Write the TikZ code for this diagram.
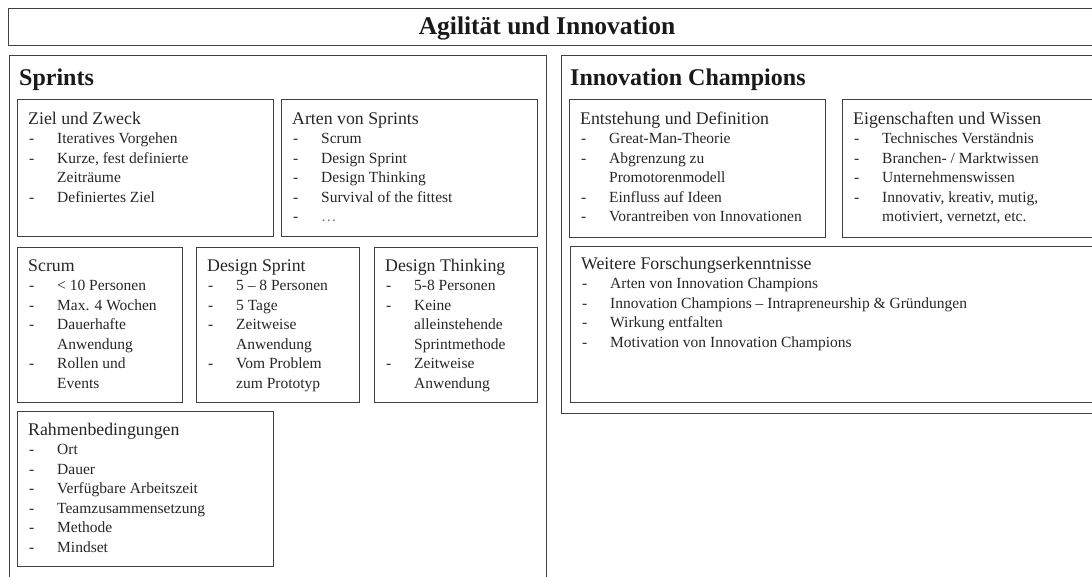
\documentclass[tikz,border=0pt]{standalone}
\usepackage{fontspec}
\setmainfont{Liberation Serif}
\usepackage{tikz}

\newcommand{\hd}[1]{\rule{0pt}{15pt}{\fontsize{17.8}{20}\selectfont #1}}
\newcommand{\itm}[1]{\makebox[29pt][l]{\hspace{1pt}-}#1}
\newcommand{\cnt}[1]{\hspace*{29pt}#1}

\begin{document}
\begin{tikzpicture}[x=1pt,y=-1pt,
  box/.style={draw=black!75,line width=1.4pt,anchor=north west,inner sep=0pt},
  txt/.style={anchor=north west,inner sep=0pt,align=left,text=black!85,font=\fontsize{15.5}{19.5}\selectfont},
  head/.style={anchor=base west,inner sep=0pt,text=black!90,font=\fontsize{24}{28}\selectfont\bfseries}]
\path[use as bounding box,clip] (0,0) rectangle (1092,576);
\node[box,minimum width=1100,minimum height=37] (top) at (8,8) {};
\node[head,anchor=base,font=\fontsize{25.5}{28}\selectfont\bfseries] (title) at (547,34) {Agilität und Innovation};
\node[box,minimum width=537,minimum height=560] (sprints) at (9,55) {};
\node[head] (sprintshd) at (19,85) {Sprints};
\node[box,minimum width=560,minimum height=358] (champ) at (561,55) {};
\node[head] (champhd) at (570,85) {Innovation Champions};
\node[box,minimum width=256,minimum height=137] (ziel) at (17,99) {};
\node[txt] (zieltxt) at (28,109) {\hd{Ziel und Zweck}\\ \itm{Iteratives Vorgehen}\\ \itm{Kurze, fest definierte}\\ \cnt{Zeiträume}\\ \itm{Definiertes Ziel}};
\node[box,minimum width=256,minimum height=137] (arten) at (281,99) {};
\node[txt] (artentxt) at (292,109) {\hd{Arten von Sprints}\\ \itm{Scrum}\\ \itm{Design Sprint}\\ \itm{Design Thinking}\\ \itm{Survival of the fittest}\\ \itm{\textcolor{black!55}{…}}};
\node[box,minimum width=165,minimum height=155] (scrum) at (17,247) {};
\node[txt] (scrumtxt) at (28,256) {\hd{Scrum}\\ \itm{< 10 Personen}\\ \itm{Max. 4 Wochen}\\ \itm{Dauerhafte}\\ \cnt{Anwendung}\\ \itm{Rollen und}\\ \cnt{Events}};
\node[box,minimum width=163,minimum height=155] (dsprint) at (196,247) {};
\node[txt] (dsprinttxt) at (207,256) {\hd{Design Sprint}\\ \itm{5 – 8 Personen}\\ \itm{5 Tage}\\ \itm{Zeitweise}\\ \cnt{Anwendung}\\ \itm{Vom Problem}\\ \cnt{zum Prototyp}};
\node[box,minimum width=163,minimum height=155] (dthink) at (374,247) {};
\node[txt] (dthinktxt) at (385,256) {\hd{Design Thinking}\\ \itm{5-8 Personen}\\ \itm{Keine}\\ \cnt{alleinstehende}\\ \cnt{Sprintmethode}\\ \itm{Zeitweise}\\ \cnt{Anwendung}};
\node[box,minimum width=256,minimum height=155] (rahmen) at (17,411) {};
\node[txt] (rahmentxt) at (28,420) {\hd{Rahmenbedingungen}\\ \itm{Ort}\\ \itm{Dauer}\\ \itm{Verfügbare Arbeitszeit}\\ \itm{Teamzusammensetzung}\\ \itm{Methode}\\ \itm{Mindset}};
\node[box,minimum width=256,minimum height=138] (entst) at (569,99) {};
\node[txt] (entsttxt) at (580,109) {\hd{Entstehung und Definition}\\ \itm{Great-Man-Theorie}\\ \itm{Abgrenzung zu}\\ \cnt{Promotorenmodell}\\ \itm{Einfluss auf Ideen}\\ \itm{Vorantreiben von Innovationen}};
\node[box,minimum width=270,minimum height=138] (eigen) at (842,99) {};
\node[txt] (eigentxt) at (853,109) {\hd{Eigenschaften und Wissen}\\ \itm{Technisches Verständnis}\\ \itm{Branchen- / Marktwissen}\\ \itm{Unternehmenswissen}\\ \itm{Innovativ, kreativ, mutig,}\\ \cnt{motiviert, vernetzt, etc.}};
\node[box,minimum width=540,minimum height=156] (weitere) at (570,246) {};
\node[txt] (weiteretxt) at (581,254) {\hd{Weitere Forschungserkenntnisse}\\ \itm{Arten von Innovation Champions}\\ \itm{Innovation Champions – Intrapreneurship \& Gründungen}\\ \itm{Wirkung entfalten}\\ \itm{Motivation von Innovation Champions}};
\end{tikzpicture}
\end{document}
